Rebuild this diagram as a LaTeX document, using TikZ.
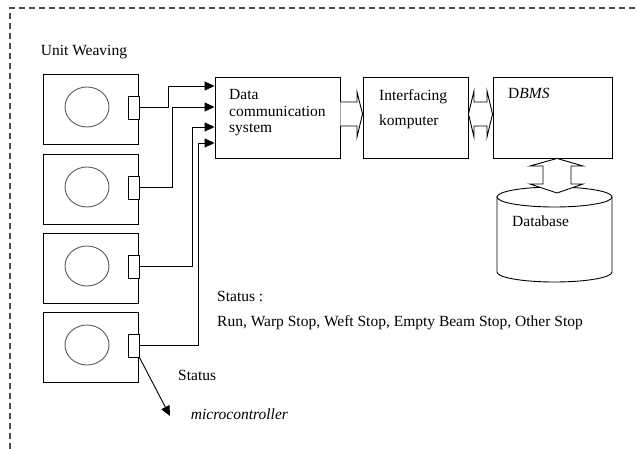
\documentclass[tikz,border=0pt]{standalone}
\usepackage{fontspec}
\setmainfont{Liberation Serif}
\usepackage{tikz}
\usetikzlibrary{shapes.geometric,arrows.meta,positioning,calc}

\begin{document}
\begin{tikzpicture}[
    x=1pt, y=-1pt,
    unitbox/.style={rectangle, draw=black, line width=0.9pt, minimum width=95pt, minimum height=70pt, inner sep=0pt},
    wheel/.style={ellipse, draw=black!65, line width=0.9pt, minimum width=44pt, minimum height=40pt, inner sep=0pt},
    port/.style={rectangle, draw=black, line width=0.9pt, fill=white, minimum width=11pt, minimum height=23pt, inner sep=0pt},
    block/.style={rectangle, draw=black, line width=0.9pt, inner sep=0pt},
    txt/.style={font=\fontsize{15.5}{16.5}\selectfont, inner sep=0pt, anchor=base west, align=left},
    feed/.style={-{Triangle[length=10pt, width=9pt]}, line width=0.9pt},
    fatarrow/.style={draw=black, fill=white, line width=0.9pt, line join=miter}
]
    \useasboundingbox (0,0) rectangle (638,449);

    % Outer frame (dashed)
    \draw[dash pattern=on 6pt off 4pt, line width=1.2pt, black!70] (10,449) -- (10,8) -- (638,8);

    % Unit weaving machines
    \node[txt] (title) at (40.7,56) {Unit Weaving};
    \node[unitbox] (u1) at (90.5,109) {};
    \node[unitbox] (u2) at (90.5,189) {};
    \node[unitbox] (u3) at (90.5,268) {};
    \node[unitbox] (u4) at (90.5,347) {};
    \node[wheel] (w1) at (87,107) {};
    \node[wheel] (w2) at (87,187) {};
    \node[wheel] (w3) at (87,266) {};
    \node[wheel] (w4) at (87,345) {};
    \node[port] (p1) at (133.5,107.5) {};
    \node[port] (p2) at (133.5,187.5) {};
    \node[port] (p3) at (133.5,266.5) {};
    \node[port] (p4) at (133.5,345.5) {};

    % Main blocks
    \node[block, minimum width=125pt, minimum height=81pt] (dcs) at (277.5,117.5) {};
    \node[block, minimum width=105pt, minimum height=81pt] (ifc) at (415.5,117.5) {};
    \node[block, minimum width=119pt, minimum height=81pt] (dbms) at (552.5,117.5) {};
    \node[txt] (dcstxt) at (229,133) {Data\\communication\\system};
    \node[txt] (ifctxt) at (379,125.7) {Interfacing\\[9pt]komputer};
    \node[txt] (dbmstxt) at (508,99) {D\textit{BMS}};

    % Database cylinder
    \draw[line width=0.9pt] (497,197) -- (497,272)
        arc[start angle=180, end angle=360, x radius=57.5pt, y radius=10pt] -- (612,197);
    \draw[line width=0.9pt] (554.5,197) ellipse [x radius=57.5pt, y radius=10pt];
    \node[txt] (dbtxt) at (512,227) {Database};

    % Feeds from the machines
    \draw[feed] (p1.east) -- ++(29,0) |- ([yshift=31.5pt]dcs.west);
    \draw[feed] (p2.east) -- ++(33,0) |- ([yshift=10.5pt]dcs.west);
    \draw[feed] (p3.east) -- ++(53,0) |- ([yshift=-9.5pt]dcs.west);
    \draw[feed] (p4.east) -- ++(59,0) |- ([yshift=-25.5pt]dcs.west);

    % Block arrows between the blocks
    \path[fatarrow] ([yshift=15.5pt]dcs.east) -- (357,102) -- (357,92) -- ([yshift=3.5pt]ifc.west)
        -- (357,137) -- (357,126) -- ([yshift=-8.5pt]dcs.east);
    \path[fatarrow] ([yshift=3.5pt]ifc.east) -- (474,91) -- (474,102) -- (487,102) -- (487,91)
        -- ([yshift=3.5pt]dbms.west) -- (487,137) -- (487,126) -- (474,126) -- (474,137) -- cycle;
    \coordinate (dbtop) at (557,193);
    \path[fatarrow] ([xshift=4.5pt]dbms.south) -- (583,166) -- (571,166) -- (571,184) -- (583,184)
        -- (dbtop) -- (530,184) -- (543,184) -- (543,166) -- (530,166) -- cycle;

    % Status texts
    \node[txt] (stat) at (217,301.7) {Status :};
    \node[txt] (statlist) at (217,326.7) {Run, Warp Stop, Weft Stop, Empty Beam Stop, Other Stop};
    \node[txt] (stat2) at (178,381) {Status};
    \node[txt] (mctxt) at (190.7,419) {\textit{microcontroller}};
    \coordinate (mc) at (170,416);
    \draw[feed] (p4.south east) -- (mc);
\end{tikzpicture}
\end{document}
